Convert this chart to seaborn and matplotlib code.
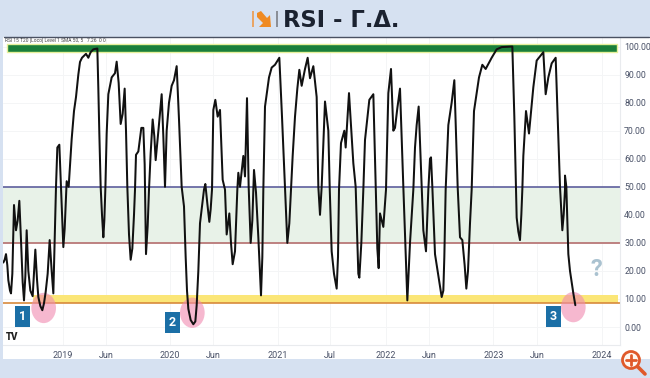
import numpy as np
import pandas as pd
import matplotlib
matplotlib.use('Agg')
import matplotlib.pyplot as plt
from matplotlib.patches import Ellipse, Rectangle, Circle, Polygon
from matplotlib.lines import Line2D
import seaborn as sns

# RSI: position along the time axis, value
session = [10, 14, 18, 22, 25, 30, 33, 37, 42, 48, 53, 58, 63, 68, 72, 76, 80, 85, 91, 98, 102, 106, 111, 115,
           121, 127, 132, 137, 143, 149, 155, 160, 168,
           172, 178, 183, 187, 190, 194, 200, 206, 215, 222, 228, 235, 240, 246, 258, 265, 272, 280, 292, 295, 298, 302, 306, 310, 313, 316, 320,
           325, 335, 345, 350, 356, 362, 368, 374, 378, 382, 387, 392, 397, 402, 405, 408, 415, 424, 430, 434, 438, 443, 447, 452, 458, 463, 467, 476, 485, 490,
           495, 500, 507, 515, 522, 530, 537, 545, 552, 557, 561, 565, 572, 580, 586, 590, 595, 600, 612, 616, 622, 628, 632, 636, 640, 646, 653, 660,
           668, 675, 680, 688, 693, 698, 705, 712, 715, 720, 730, 735, 741, 746, 752, 757, 762, 768, 775, 783,
           787, 790, 795, 800, 807, 815, 825, 838, 846, 855, 862, 868, 873, 878, 885, 892, 898, 905, 915, 923, 930, 940, 950, 955, 960, 965,
           975, 985, 989, 995, 1002, 1010, 1014, 1017, 1023, 1033, 1037, 1047, 1060, 1067, 1075, 1078, 1084, 1090, 1095,
           1108, 1120, 1127, 1132, 1136, 1140, 1150, 1158, 1165, 1173, 1180, 1185, 1192, 1200, 1210, 1222, 1230, 1240,
           1245, 1250, 1256, 1265, 1270, 1278, 1285, 1290, 1293, 1297, 1305, 1325, 1330, 1333, 1337, 1345, 1355, 1363, 1373,
           1380, 1387, 1394, 1399, 1404, 1410, 1415, 1422, 1437, 1447, 1457, 1475, 1490, 1505, 1537, 1543, 1548, 1550, 1555, 1560,
           1564, 1567, 1570, 1578, 1587, 1600, 1610, 1620, 1630, 1637, 1645, 1655, 1667, 1680, 1687, 1691, 1695, 1695, 1699, 1705, 1710, 1720, 1726]
rsi = [23, 24, 26, 22, 16.7, 13, 12, 19, 43.5, 34.5, 38, 45, 31, 16, 9.5, 18, 34.5, 20, 13, 11, 19, 27.6, 17, 10.7,
       7.5, 6, 8.5, 12.5, 19, 31, 20, 12, 50,
       64, 65, 50, 37, 28.5, 35, 52, 50, 67, 77, 82, 90, 94.5, 96, 97.4, 96, 98, 99, 99.3, 85, 69, 50, 40, 32, 38, 49, 69,
       83, 89, 90.5, 94.6, 87, 72.4, 76, 85, 70, 50, 33, 24, 28, 40, 49, 61.4, 62.6, 71, 71, 58, 26, 36, 49, 62, 74, 68, 59.5, 71, 83, 68,
       50, 70, 80, 86, 88, 93, 74, 50, 43, 25, 13, 6.5, 2.5, 1, 2, 7.7, 20, 37, 49, 51, 44, 37.5, 42, 49, 77.4, 81, 75, 77.4,
       52.5, 49, 33, 40.5, 30, 22.4, 27, 49, 55, 50, 61, 53.7, 81.6, 50, 30, 38, 56, 48, 32, 11.3,
       25, 49, 78.6, 83, 89, 92.5, 93.5, 96, 75, 50, 30, 37, 49, 61, 75, 85, 91.7, 86, 92, 96, 88.7, 93, 82, 50, 40, 50,
       80.4, 70, 50, 27, 19, 13.7, 25, 49, 65.6, 70, 64, 83.4, 58.4, 50, 19, 17.6, 30, 49, 66.7,
       81, 83, 50, 28, 21, 40.5, 35.7, 49, 83.4, 92, 70, 71, 78, 85, 50, 9.5, 30, 49,
       64, 72, 78.6, 50, 34.5, 27, 49, 60, 60.5, 50, 26, 10.7, 13, 25, 49, 72, 80, 88, 50,
       32, 31, 22, 13.7, 20, 37, 49, 77, 89, 93.5, 92, 96, 99, 99.8, 100, 75, 50, 39, 34, 31,
       40, 49, 61, 77, 69, 85.5, 95, 96.5, 98, 83, 89, 94, 96, 50, 34.5, 40, 49, 54, 50, 26, 20, 12, 7.8]

xtick_pos = [189, 319, 510, 640, 833, 990, 1157, 1287, 1480, 1612, 1805]
xtick_labels = ['2019', 'Jun', '2020', 'Jun', '2021', 'Jul', '2022', 'Jun', '2023', 'Jun', '2024']
ytick_vals = [0, 10, 20, 30, 40, 50, 60, 70, 80, 90, 100]

circle_x = [131, 577, 1720]
circle_y = [6.8, 5.1, 7.1]
badge_x = [68, 517, 1660]
badge_y = [3.6, 1.5, 3.9]
badge_labels = ['1', '2', '3']

df = pd.DataFrame({'session': session, 'rsi': rsi})

sns.set_style('white')
plt.rcParams['font.family'] = ['Roboto', 'DejaVu Sans']

fig = plt.figure(figsize=(6.5, 3.78), dpi=100, facecolor='#d6e1f1')
W, H = 650, 378

# white panel behind chart and price scale
fig.add_artist(Rectangle((3 / W, 1 - 359 / H), 647 / W, 322 / H, transform=fig.transFigure,
                         facecolor='white', edgecolor='none', zorder=-1))
fig.add_artist(Line2D([4 / W, 649 / W], [1 - 37 / H, 1 - 37 / H], transform=fig.transFigure,
                      color='#4a5162', lw=1.0, zorder=5))

ax = fig.add_axes([3 / W, 1 - 345 / H, 617 / W, 308 / H], facecolor='none', zorder=1)
ax.set_xlim(9, 1860)
ax.set_ylim(-6.4, 103.4)

ax.grid(True, color='#f4f5f6', lw=0.7)
ax.set_axisbelow(True)

# zones
ax.axhspan(30, 50, color='#e8f2e8', lw=0, zorder=1)
ax.fill_between([21, 1851], 97.9, 100.9, facecolor='#1a7f3a', edgecolor='#e6f09a', lw=1.0, zorder=1.5)
ax.fill_between([99, 1854], 8.7, 11.3, facecolor='#fbe677', edgecolor='none', zorder=1.5)
ax.axhline(50, color='#5d5f9d', lw=1.2, zorder=2)
ax.axhline(30, color='#b56e6e', lw=1.2, zorder=2)
ax.axhline(8.5, color='#d88a3c', lw=1.2, zorder=2)

for cx, cy in zip(circle_x, circle_y):
    ax.add_patch(Ellipse((cx, cy), 74, 10.8, facecolor='#f08ab0', edgecolor='none', alpha=0.6, zorder=2.5))

sns.lineplot(data=df, x='session', y='rsi', ax=ax, color='#111111', lw=1.45, sort=False,
             estimator=None, zorder=3)

for bx, by, lab in zip(badge_x, badge_y, badge_labels):
    ax.text(bx, by, lab, ha='center', va='center', color='white', fontsize=9, fontweight='bold', zorder=4,
            bbox=dict(boxstyle='square,pad=0.32', facecolor='#1b6fa6', edgecolor='none'))
ax.text(1790, 20.5, '?', ha='center', va='center', color='#aac2d0', fontsize=17, fontweight='bold', zorder=4)
ax.text(35, -3.5, 'TV', ha='center', va='center', color='#222222', fontsize=7, fontweight='black', zorder=4)
ax.text(15, 102.0, 'RSI 15 T20 [Loco] Level 1 SMA 50, 5   7.26  0 0', ha='left', va='center',
        color='#444444', fontsize=3.5, zorder=4)

ax.set_xticks(xtick_pos)
ax.set_xticklabels(xtick_labels)
ax.yaxis.tick_right()
ax.set_yticks(ytick_vals)
ax.set_yticklabels(['%.2f' % v for v in ytick_vals])
ax.tick_params(axis='x', length=0, pad=4, labelsize=6.5, labelcolor='#4a5268')
ax.tick_params(axis='y', length=0, pad=3, labelsize=6.3, labelcolor='#4a5268')
ax.set_xlabel('')
ax.set_ylabel('')
for s in ['top', 'left']:
    ax.spines[s].set_visible(False)
for s in ['right', 'bottom']:
    ax.spines[s].set_color('#e9ebee')
    ax.spines[s].set_linewidth(0.8)

# header + logo + magnifier drawn in pixel coordinates
top = fig.add_axes([0, 0, 1, 1], facecolor='none', zorder=3)
top.set_xlim(0, W)
top.set_ylim(H, 0)
top.axis('off')

top.text(283, 27, 'RSI - Γ.Δ.', ha='left', va='baseline', color='#1b2230', fontsize=16.3, fontweight='bold',
         family='DejaVu Sans')
top.add_patch(Rectangle((252, 11), 2, 16, facecolor='#e9a565', edgecolor='none'))
top.add_patch(Rectangle((276, 11), 1.6, 16, facecolor='#8b8f98', edgecolor='none'))
top.add_patch(Polygon([(257, 13), (261, 11), (267, 18), (270, 15), (271, 27), (259, 27), (263, 23), (257, 17)],
                      facecolor='#ef8a22', edgecolor='none'))

top.add_line(Line2D([638, 645], [367, 374], color='#e0592a', lw=2.6, solid_capstyle='round'))
top.add_patch(Circle((631, 360), 8.5, facecolor='#fff7f0', edgecolor='#e0592a', lw=2))
top.add_line(Line2D([626, 636], [360, 360], color='#e0592a', lw=2))
top.add_line(Line2D([631, 631], [355, 365], color='#e0592a', lw=2))

fig.savefig('out.png', dpi=100, facecolor=fig.get_facecolor())
